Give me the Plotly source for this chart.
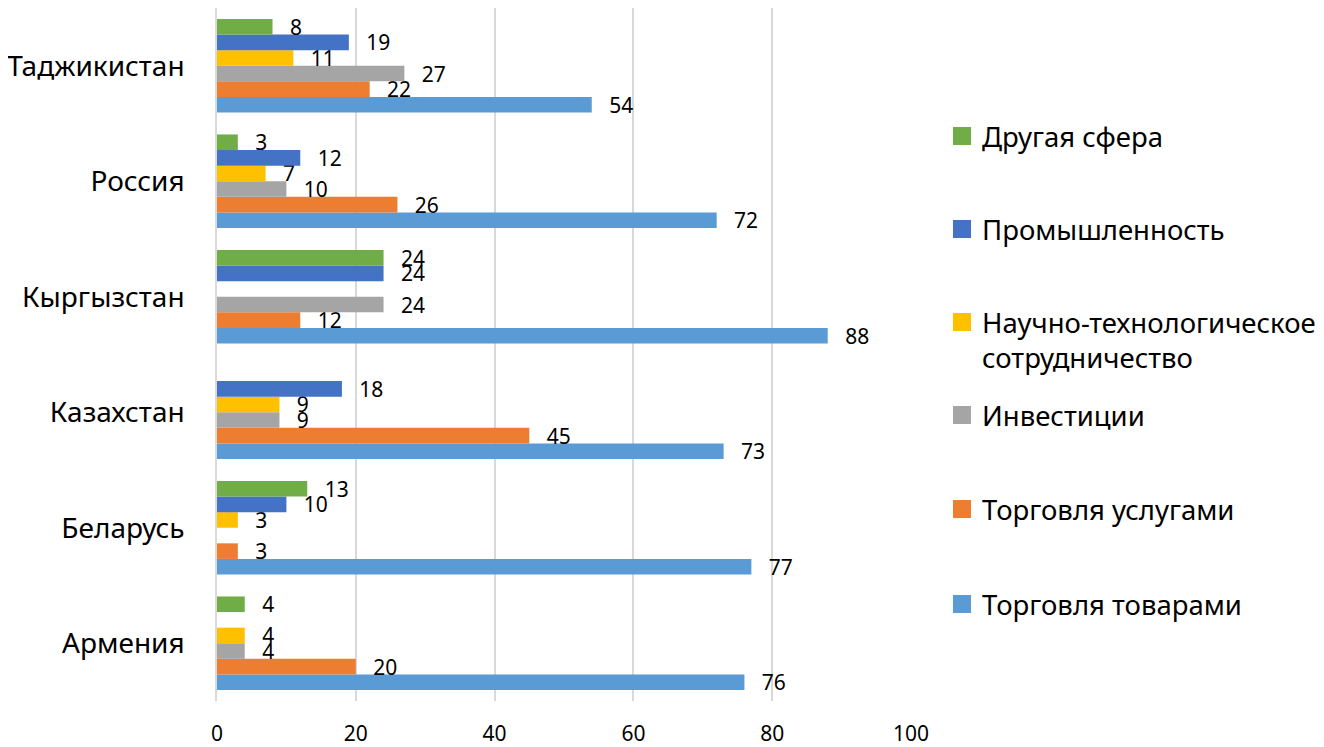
import plotly.graph_objects as go

countries = ["Армения", "Беларусь", "Казахстан", "Кыргызстан", "Россия", "Таджикистан"]

series_names = [
    "Торговля товарами",
    "Торговля услугами",
    "Инвестиции",
    "Научно-технологическое<br>сотрудничество",
    "Промышленность",
    "Другая сфера",
]
trade_goods = [76, 77, 73, 88, 72, 54]
trade_services = [20, 3, 45, 12, 26, 22]
investments = [4, None, 9, 24, 10, 27]
sci_tech = [4, 3, 9, None, 7, 11]
industry = [None, 10, 18, 24, 12, 19]
other = [4, 13, None, 24, 3, 8]

series_values = [trade_goods, trade_services, investments, sci_tech, industry, other]
colors = ["#5B9BD5", "#ED7D31", "#A5A5A5", "#FFC000", "#4472C4", "#70AD47"]

FONT = "Noto Sans"

# page body has an 8px margin, so figure is sized / placed to compensate
W, Hfig = 1316, 739
plot_left, plot_right = 209, 903
plot_top, plot_bottom = 0, 693
PH = plot_bottom - plot_top

fig = go.Figure()
for name, vals, col in zip(series_names, series_values, colors):
    fig.add_trace(go.Bar(
        y=countries, x=vals, orientation="h", name=name,
        marker=dict(color=col, line=dict(width=0)),
        texttemplate="\u00a0\u00a0\u2009%{x}", textposition="outside",
        textfont=dict(family=FONT, size=21, color="#000000"),
        constraintext="none", cliponaxis=False, showlegend=False,
    ))

legend_px = {  # marker centre (px from top of figure)
    "Другая сфера": 128,
    "Промышленность": 221,
    "Научно-технологическое<br>сотрудничество": 332,
    "Инвестиции": 407,
    "Торговля услугами": 501,
    "Торговля товарами": 596,
}
for i, (name, col) in enumerate(zip(series_names, colors)):
    lg = "legend" if i == 0 else f"legend{i+1}"
    fig.add_trace(go.Scatter(
        x=[None], y=[None], mode="markers", name=name,
        marker=dict(symbol="square", size=16, color=col, line=dict(width=2, color=col)),
        legend=lg, showlegend=True, hoverinfo="skip",
    ))
    ypx = legend_px[name]
    fig.layout[lg] = dict(
        x=1.0447, xanchor="left", y=(plot_bottom - ypx) / PH, yanchor="middle",
        font=dict(family=FONT, size=27.5, color="#000000"),
        bgcolor="rgba(0,0,0,0)", valign="top", itemsizing="trace",
    )

fig.update_layout(
    width=W, height=Hfig,
    margin=dict(l=plot_left, r=W - plot_right, t=plot_top, b=Hfig - plot_bottom, autoexpand=False),
    paper_bgcolor="white", plot_bgcolor="white",
    barmode="group", bargap=0.19, bargroupgap=0,
    font=dict(family=FONT, color="#000000"),
    xaxis=dict(
        range=[0, 100], tickvals=[0, 20, 40, 60, 80, 100],
        showgrid=True, gridcolor="#D9D9D9", gridwidth=1.5,
        zeroline=False, showline=False,
        ticks="outside", ticklen=14, tickcolor="rgba(0,0,0,0)",
        tickfont=dict(family=FONT, size=21, color="#000000"),
    ),
    yaxis=dict(
        showline=True, linecolor="#D9D9D9", linewidth=1.5,
        showgrid=False, ticks="", ticklabelstandoff=25,
        tickfont=dict(family=FONT, size=28, color="#000000"),
    ),
)

fig.write_html("out.html")
